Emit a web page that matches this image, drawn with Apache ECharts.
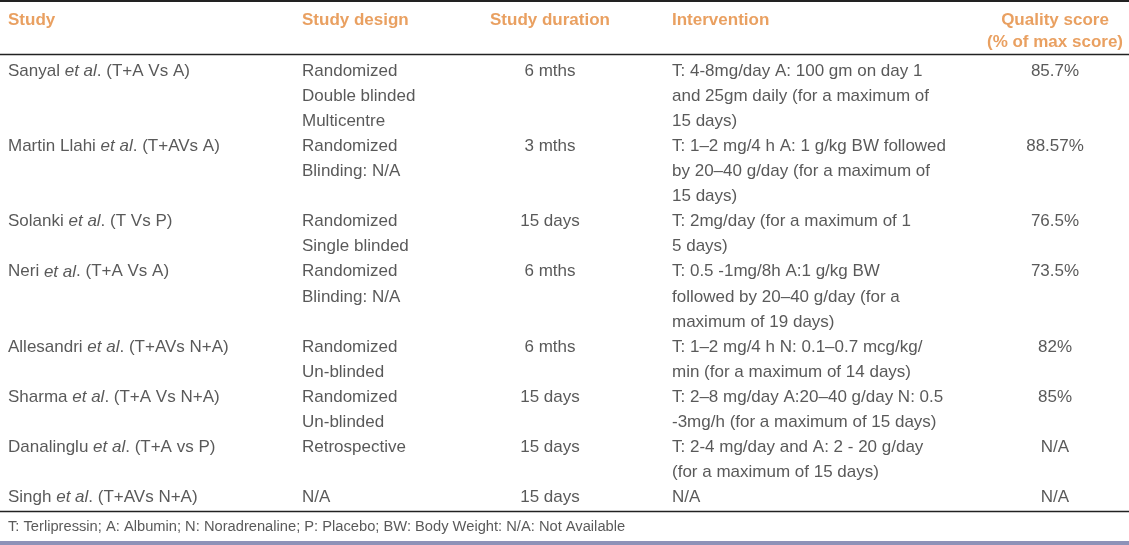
<!DOCTYPE html>
<html>
<head>
<meta charset="utf-8">
<script src="https://cdn.jsdelivr.net/npm/echarts@6/dist/echarts.min.js"></script>
<style>html,body{margin:0;padding:0;background:#fff}#c{width:1129px;height:545px}</style>
</head>
<body>
<div id="c"></div>
<script>
// ---- data ----
const headers = ["Study", "Study design", "Study duration", "Intervention", ["Quality score", "(% of max score)"]];
const studyNames = ["Sanyal", "Martin Llahi", "Solanki", "Neri", "Allesandri", "Sharma", "Danalinglu", "Singh"];
const studyComparisons = ["(T+A Vs A)", "(T+AVs A)", "(T Vs P)", "(T+A Vs A)", "(T+AVs N+A)", "(T+A Vs N+A)", "(T+A vs P)", "(T+AVs N+A)"];
const studyDesign = [
  ["Randomized", "Double blinded", "Multicentre"],
  ["Randomized", "Blinding: N/A"],
  ["Randomized", "Single blinded"],
  ["Randomized", "Blinding: N/A"],
  ["Randomized", "Un-blinded"],
  ["Randomized", "Un-blinded"],
  ["Retrospective"],
  ["N/A"]
];
const studyDuration = ["6 mths", "3 mths", "15 days", "6 mths", "6 mths", "15 days", "15 days", "15 days"];
const intervention = [
  ["T: 4-8mg/day A: 100 gm on day 1", "and 25gm daily (for a maximum of", "15 days)"],
  ["T: 1–2 mg/4 h A: 1 g/kg BW followed", "by 20–40 g/day (for a maximum of", "15 days)"],
  ["T: 2mg/day (for a maximum of 1", "5 days)"],
  ["T: 0.5 -1mg/8h A:1 g/kg BW", "followed by 20–40 g/day (for a", "maximum of 19 days)"],
  ["T: 1–2 mg/4 h N: 0.1–0.7 mcg/kg/", "min (for a maximum of 14 days)"],
  ["T: 2–8 mg/day A:20–40 g/day N: 0.5", "-3mg/h (for a maximum of 15 days)"],
  ["T: 2-4 mg/day and A: 2 - 20 g/day", "(for a maximum of 15 days)"],
  ["N/A"]
];
const qualityScore = ["85.7%", "88.57%", "76.5%", "73.5%", "82%", "85%", "N/A", "N/A"];
const footnote = "T: Terlipressin; A: Albumin; N: Noradrenaline; P: Placebo; BW: Body Weight: N/A: Not Available";

// ---- layout ----
const W = 1129, H = 545;
const colX = [8, 302, 550, 672, 1055];
const colAlign = ['left', 'left', 'center', 'left', 'center'];
const headerY = [20, 42];
const firstLineY = 71, lineGap = 25.1;
const footY = 527;
const rules = [{y: 1, w: 2}, {y: 54, w: 1.3}, {y: 511, w: 1.3}];
const FONT = '"Liberation Sans", Arial, sans-serif';
const bodyColor = '#303030';
const headColor = '#e4883a';

// row start line indices
const rowLines = studyDesign.map((d, i) => Math.max(d.length, intervention[i].length, 1));
const rowStart = [];
let acc = 0;
rowLines.forEach(n => { rowStart.push(acc); acc += n; });
const lineY = k => firstLineY + k * lineGap;

function textSeries(name, items, align, style) {
  return {
    type: 'scatter', name, symbolSize: 0, silent: true,
    data: items.map(it => ({ value: [it.x, it.y], text: it.text })),
    label: Object.assign({
      show: true, position: [0, 0], align, verticalAlign: 'middle',
      fontFamily: FONT, fontSize: 17, color: bodyColor,
      formatter: p => p.data.text
    }, style || {})
  };
}

const series = [];
// header
const headItems = [];
headers.forEach((h, c) => {
  const lines = Array.isArray(h) ? h : [h];
  lines.forEach((t, j) => headItems.push({ x: colX[c], y: headerY[j], text: t, c }));
});
[0, 1, 2, 3, 4].forEach(c => {
  series.push(textSeries('head' + c, headItems.filter(i => i.c === c), colAlign[c],
    { fontWeight: 'bold', color: headColor }));
});
// study column
series.push(textSeries('study', studyNames.map((n, i) => ({
  x: colX[0], y: lineY(rowStart[i]),
  text: '{n|' + n + ' }{i|et al}{n|. ' + studyComparisons[i] + '}'
})), 'left', {
  rich: {
    n: { fontFamily: FONT, fontSize: 17, color: bodyColor },
    i: { fontFamily: FONT, fontSize: 17, color: bodyColor, fontStyle: 'italic' }
  }
}));
// design
const designItems = [];
studyDesign.forEach((d, i) => d.forEach((t, j) => designItems.push({ x: colX[1], y: lineY(rowStart[i] + j), text: t })));
series.push(textSeries('design', designItems, 'left'));
// duration
series.push(textSeries('duration', studyDuration.map((t, i) => ({ x: colX[2], y: lineY(rowStart[i]), text: t })), 'center'));
// intervention
const intItems = [];
intervention.forEach((d, i) => d.forEach((t, j) => intItems.push({ x: colX[3], y: lineY(rowStart[i] + j), text: t })));
series.push(textSeries('intervention', intItems, 'left'));
// quality
series.push(textSeries('quality', qualityScore.map((t, i) => ({ x: colX[4], y: lineY(rowStart[i]), text: t })), 'center'));
// footnote
series.push(textSeries('footnote', [{ x: colX[0], y: footY, text: footnote }], 'left', { fontSize: 14.7 }));
// rules
series.push({
  type: 'line', name: 'rules', data: [], silent: true,
  markLine: {
    silent: true, symbol: 'none', animation: false,
    label: { show: false },
    data: rules.map(r => [
      { coord: [0, r.y], lineStyle: { color: '#222', width: r.w, type: 'solid' } },
      { coord: [W, r.y] }
    ])
  }
});

const chart = echarts.init(document.getElementById('c'), null, { renderer: 'canvas' });
chart.setOption({
  animation: false,
  backgroundColor: '#fff',
  grid: { left: 0, right: 0, top: 0, bottom: 0 },
  xAxis: { type: 'value', min: 0, max: W, show: false },
  yAxis: { type: 'value', min: 0, max: H, inverse: true, show: false },
  graphic: [{
    type: 'rect', left: 0, bottom: 0, silent: true,
    shape: { width: W, height: 4 },
    style: { fill: '#8e92b8' }
  }],
  series
});
</script>
</body>
</html>
